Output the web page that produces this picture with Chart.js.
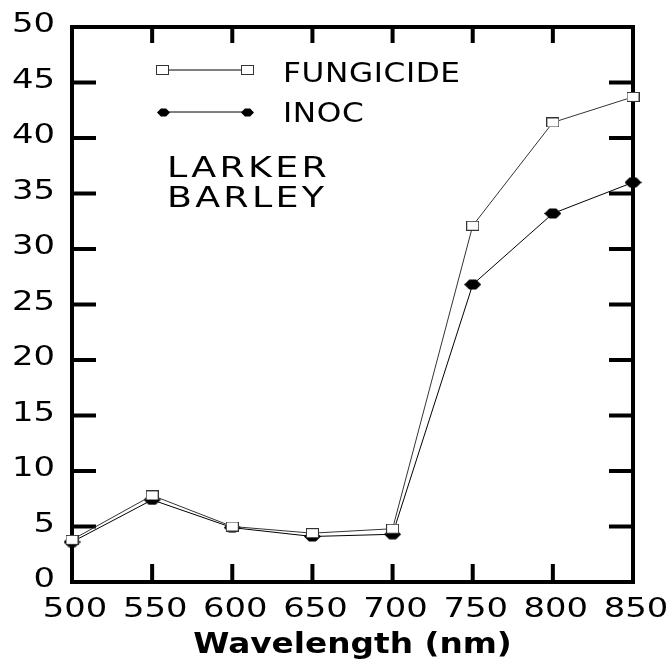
<!DOCTYPE html>
<html>
<head>
<meta charset="utf-8">
<script src="https://cdn.jsdelivr.net/npm/chart.js@4.4.0/dist/chart.umd.min.js"></script>
<style>
  html, body { margin: 0; padding: 0; background: #fff; }
  #wrap { width: 671px; height: 660px; }
</style>
</head>
<body>
<div id="wrap"><canvas id="chart"></canvas></div>
<script>
// data
const wavelengths = [500, 550, 600, 650, 700, 750, 800, 850];
const fungicide = [3.8, 7.8, 5.0, 4.4, 4.8, 32.1, 41.4, 43.7];
const inoc = [3.6, 7.4, 4.9, 4.1, 4.3, 26.8, 33.2, 36.0];
const yTicks = [0, 5, 10, 15, 20, 25, 30, 35, 40, 45, 50];
const xTitle = 'Wavelength (nm)';

const FONT = '"DejaVu Sans", sans-serif';

// marker images
function squareMarker() {
  const c = document.createElement('canvas');
  c.width = 13; c.height = 10;
  const g = c.getContext('2d');
  g.fillStyle = '#fff';
  g.fillRect(0, 0, 13, 10);
  g.strokeStyle = '#333';
  g.lineWidth = 1;
  g.strokeRect(0.5, 0.5, 12, 9);
  return c;
}
function diamondMarker(w, h) {
  const c = document.createElement('canvas');
  c.width = w; c.height = h;
  const g = c.getContext('2d');
  g.fillStyle = '#000';
  g.beginPath();
  g.moveTo(0, h / 2); g.lineTo(w * 0.3, 0.5); g.lineTo(w * 0.7, 0.5);
  g.lineTo(w, h / 2); g.lineTo(w * 0.7, h - 0.5); g.lineTo(w * 0.3, h - 0.5);
  g.closePath();
  g.fill();
  return c;
}
const sqImg = squareMarker();
const diImg = diamondMarker(17, 11);
const diSmall = diamondMarker(13, 9);

// the original uses a very wide geometric face, so stretch DejaVu a bit
function wideText(ctx, text, x, y, font, sx, spacing, align) {
  ctx.save();
  ctx.letterSpacing = spacing + 'px';
  ctx.font = font;
  ctx.textAlign = 'left';
  ctx.textBaseline = 'alphabetic';
  const w = (ctx.measureText(text).width - spacing) * sx;
  let x0 = x;
  if (align === 'center') x0 = x - w / 2;
  if (align === 'right') x0 = x - w;
  ctx.translate(x0, y);
  ctx.scale(sx, 1);
  ctx.fillText(text, 0, 0);
  ctx.restore();
}

const frame = {
  id: 'frame',
  beforeDatasetsDraw(chart) {
    const { ctx, chartArea: a, scales } = chart;
    ctx.save();
    ctx.strokeStyle = '#000';
    ctx.lineWidth = 4;
    ctx.strokeRect(a.left, a.top, a.right - a.left, a.bottom - a.top);
    ctx.beginPath();
    yTicks.slice(1, -1).forEach(v => {
      const y = scales.y.getPixelForValue(v);
      ctx.moveTo(a.left, y); ctx.lineTo(a.left + 24, y);
      ctx.moveTo(a.right, y); ctx.lineTo(a.right - 24, y);
    });
    wavelengths.slice(1, -1).forEach(v => {
      const x = scales.x.getPixelForValue(v);
      ctx.moveTo(x, a.bottom); ctx.lineTo(x, a.bottom - 18);
      ctx.moveTo(x, a.top); ctx.lineTo(x, a.top + 16);
    });
    ctx.stroke();

    // tick labels and axis title, placed with the library's scales
    ctx.fillStyle = '#000';
    const tf = '26px ' + FONT;
    scales.y.ticks.forEach(t => {
      const y = scales.y.getPixelForValue(t.value);
      wideText(ctx, String(t.value), 55, y + 5, tf, 1.3, 0, 'right');
    });
    scales.x.ticks.forEach(t => {
      const x = scales.x.getPixelForValue(t.value);
      wideText(ctx, String(t.value), x + 3, a.bottom + 35, tf, 1.3, 0, 'center');
    });
    wideText(ctx, xTitle, (a.left + a.right) / 2, 653, 'bold 28px ' + FONT, 1.17, 0, 'center');
    ctx.restore();
  },
  afterDatasetsDraw(chart) {
    const ctx = chart.ctx;
    ctx.save();
    ctx.strokeStyle = '#000';
    ctx.lineWidth = 1;
    ctx.beginPath();
    ctx.moveTo(162, 70); ctx.lineTo(247, 70);
    ctx.moveTo(163, 112); ctx.lineTo(247, 112);
    ctx.stroke();
    ctx.drawImage(sqImg, 162 - 6, 70 - 5);
    ctx.drawImage(sqImg, 247 - 6, 70 - 5);
    ctx.drawImage(diSmall, 163 - 6, 112 - 4);
    ctx.drawImage(diSmall, 247 - 6, 112 - 4);
    ctx.fillStyle = '#000';
    wideText(ctx, 'FUNGICIDE', 283, 82, '26px ' + FONT, 1.2, 0.5);
    wideText(ctx, 'INOC', 283, 122, '26px ' + FONT, 1.2, 0.5);
    wideText(ctx, 'LARKER', 167, 177, '28px ' + FONT, 1.3, 2.5);
    wideText(ctx, 'BARLEY', 167, 207, '28px ' + FONT, 1.3, 2.5);
    ctx.restore();
  }
};

new Chart(document.getElementById('chart'), {
  type: 'line',
  data: {
    labels: wavelengths,
    datasets: [
      {
        label: 'FUNGICIDE',
        data: wavelengths.map((w, i) => ({ x: w, y: fungicide[i] })),
        borderColor: '#333',
        borderWidth: 1,
        pointStyle: sqImg,
        clip: false
      },
      {
        label: 'INOC',
        data: wavelengths.map((w, i) => ({ x: w, y: inoc[i] })),
        borderColor: '#000',
        borderWidth: 1,
        pointStyle: diImg,
        clip: false
      }
    ]
  },
  options: {
    responsive: true,
    maintainAspectRatio: false,
    animation: false,
    layout: { padding: { top: 27, right: 38, left: 0, bottom: 0 } },
    plugins: { legend: { display: false }, tooltip: { enabled: false } },
    scales: {
      x: {
        type: 'linear',
        min: 500, max: 850,
        afterFit(s) { s.height = 78; },
        grid: { display: false },
        border: { display: false },
        ticks: { stepSize: 50, display: false }
      },
      y: {
        min: 0, max: 50,
        afterFit(s) { s.width = 72; },
        grid: { display: false },
        border: { display: false },
        ticks: { stepSize: 5, display: false }
      }
    }
  },
  plugins: [frame]
});
</script>
</body>
</html>
